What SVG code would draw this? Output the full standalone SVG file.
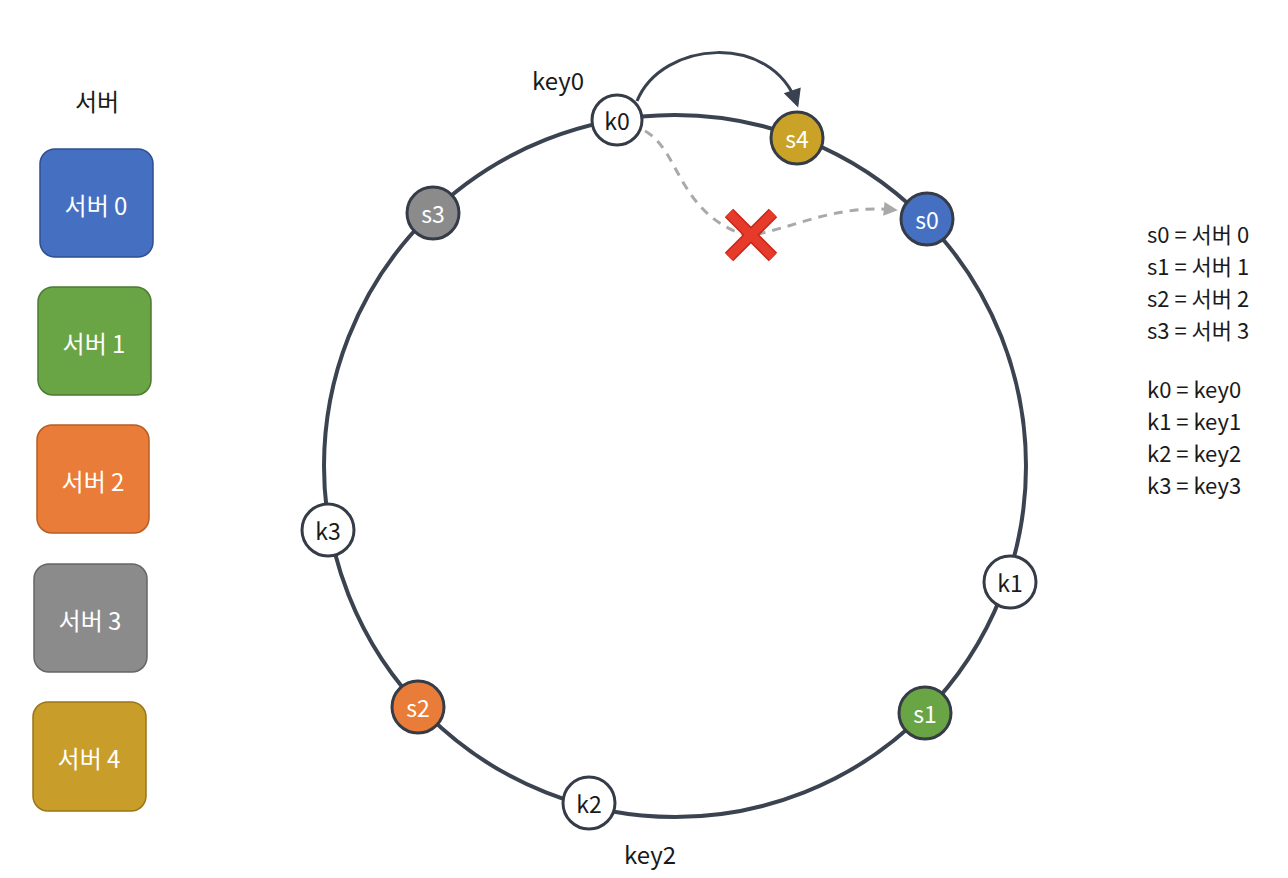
<svg xmlns="http://www.w3.org/2000/svg" width="1288" height="878" viewBox="0 0 1288 878">
<defs>
<style>
text{font-family:"Noto Sans CJK KR","Noto Sans","Liberation Sans",sans-serif;}
.box{stroke-width:1.5;}
.bt{fill:#ffffff;font-size:24px;text-anchor:middle;dominant-baseline:central;}
.node{stroke:#353c47;stroke-width:3;}
.kn{fill:#ffffff;}
.nt{font-size:23px;text-anchor:middle;dominant-baseline:central;}
.lbl{font-size:24px;fill:#1a1a1a;}
.leg{font-size:22px;fill:#1a1a1a;}
</style>
<marker id="ahg" viewBox="0 0 10 10" refX="8" refY="5" markerWidth="16" markerHeight="14" orient="auto" markerUnits="userSpaceOnUse">
<path d="M0,0 L10,5 L0,10 z" fill="#a9a9a9"/>
</marker>
<marker id="ahd" viewBox="0 0 10 10" refX="8" refY="5" markerWidth="20" markerHeight="18" orient="auto" markerUnits="userSpaceOnUse">
<path d="M0,0 L10,5 L0,10 z" fill="#3a4250"/>
</marker>
</defs>
<rect width="1288" height="878" fill="#ffffff"/>

<g id="legend-servers">
<text x="97" y="111" class="lbl" text-anchor="middle">서버</text>
<g id="box0"><rect x="40" y="149" width="113" height="108" rx="15" fill="#4570c1" stroke="#2e4f8e" class="box"/><text x="96" y="204" class="bt">서버 0</text></g>
<g id="box1"><rect x="38" y="287" width="113" height="108" rx="15" fill="#6aa545" stroke="#4c7a32" class="box"/><text x="94" y="342" class="bt">서버 1</text></g>
<g id="box2"><rect x="37" y="425" width="112" height="108" rx="15" fill="#e97c38" stroke="#b85c22" class="box"/><text x="93" y="480" class="bt">서버 2</text></g>
<g id="box3"><rect x="34" y="564" width="113" height="108" rx="15" fill="#8b8b8b" stroke="#666666" class="box"/><text x="90" y="619" class="bt">서버 3</text></g>
<g id="box4"><rect x="33" y="702" width="113" height="109" rx="15" fill="#c99d2a" stroke="#9a7618" class="box"/><text x="89" y="757" class="bt">서버 4</text></g>
</g>

<g id="connectors">
<circle id="ring" cx="675" cy="466" r="351" fill="none" stroke="#3b4351" stroke-width="4"/>
<path id="k0-to-s4" d="M637,101 C662,40 772,32 797,104" fill="none" stroke="#3a4250" stroke-width="3" marker-end="url(#ahd)"/>
<path id="k0-to-s0-old" d="M645,131 C680,150 678,215 748,236 C795,228 835,204 895,210" fill="none" stroke="#a9a9a9" stroke-width="3" stroke-dasharray="9,7" marker-end="url(#ahg)"/>
</g>

<g id="xmark" transform="translate(751,235)">
<path d="M-22,-22 L22,22 M22,-22 L-22,22" stroke="#c8261a" stroke-width="12" stroke-linecap="butt"/>
<path d="M-22,-22 L22,22 M22,-22 L-22,22" stroke="#e63b2b" stroke-width="9" stroke-linecap="butt"/>
</g>

<g id="k0"><circle cx="617" cy="120" r="25" class="node kn"/><text x="617" y="120" class="nt" fill="#1a1a1a">k0</text></g>
<g id="s4"><circle cx="797" cy="138" r="26" class="node" fill="#c9a227"/><text x="797" y="138" class="nt" fill="#ffffff">s4</text></g>
<g id="s0"><circle cx="927" cy="219" r="26" class="node" fill="#4570c1"/><text x="927" y="219" class="nt" fill="#ffffff">s0</text></g>
<g id="s3"><circle cx="433" cy="213" r="26" class="node" fill="#8b8b8b"/><text x="433" y="213" class="nt" fill="#ffffff">s3</text></g>
<g id="k3"><circle cx="328" cy="530" r="26" class="node kn"/><text x="328" y="530" class="nt" fill="#1a1a1a">k3</text></g>
<g id="k1"><circle cx="1010" cy="582" r="26" class="node kn"/><text x="1010" y="582" class="nt" fill="#1a1a1a">k1</text></g>
<g id="s1"><circle cx="925" cy="713" r="26" class="node" fill="#6aa545"/><text x="925" y="713" class="nt" fill="#ffffff">s1</text></g>
<g id="s2"><circle cx="418" cy="707" r="26" class="node" fill="#e97c38"/><text x="418" y="707" class="nt" fill="#ffffff">s2</text></g>
<g id="k2"><circle cx="589" cy="803" r="26" class="node kn"/><text x="589" y="803" class="nt" fill="#1a1a1a">k2</text></g>

<g id="labels">
<text x="558" y="90" class="lbl" text-anchor="middle">key0</text>
<text x="650" y="864" class="lbl" text-anchor="middle">key2</text>
</g>

<g id="legend-text">
<text class="leg" x="1147" y="243">s0 = 서버 0</text>
<text class="leg" x="1147" y="275">s1 = 서버 1</text>
<text class="leg" x="1147" y="307">s2 = 서버 2</text>
<text class="leg" x="1147" y="339">s3 = 서버 3</text>
<text class="leg" x="1147" y="398">k0 = key0</text>
<text class="leg" x="1147" y="430">k1 = key1</text>
<text class="leg" x="1147" y="462">k2 = key2</text>
<text class="leg" x="1147" y="494">k3 = key3</text>
</g>
</svg>
